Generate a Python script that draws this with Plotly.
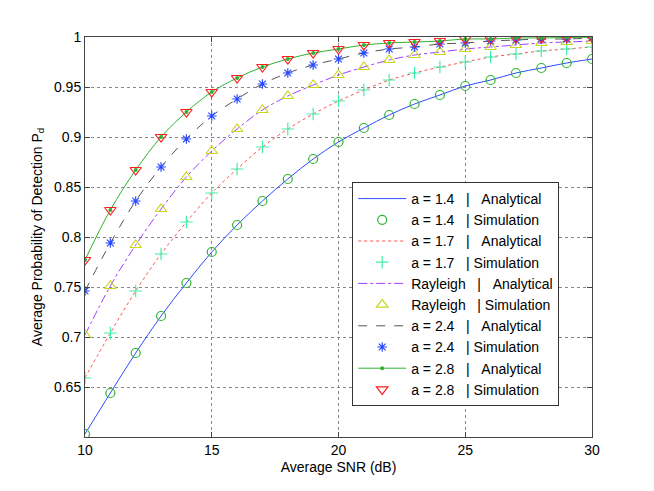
import plotly.graph_objects as go

snr = list(range(10, 31))

pd_a14 = [0.603, 0.644, 0.684, 0.721, 0.754, 0.785, 0.812, 0.836, 0.858, 0.878, 0.895,
          0.909, 0.922, 0.933, 0.942, 0.951, 0.957, 0.964, 0.969, 0.974, 0.978]
pd_a17 = [0.659, 0.704, 0.746, 0.783, 0.815, 0.844, 0.868, 0.890, 0.908, 0.923, 0.936,
          0.947, 0.957, 0.964, 0.970, 0.975, 0.980, 0.983, 0.986, 0.988, 0.990]
pd_ray = [0.702, 0.751, 0.792, 0.828, 0.860, 0.886, 0.908, 0.927, 0.941, 0.952, 0.962,
          0.970, 0.977, 0.982, 0.985, 0.988, 0.990, 0.992, 0.994, 0.995, 0.996]
pd_a24 = [0.746, 0.794, 0.836, 0.870, 0.898, 0.921, 0.938, 0.953, 0.964, 0.972, 0.978,
          0.984, 0.988, 0.990, 0.993, 0.994, 0.996, 0.997, 0.998, 0.998, 0.999]
pd_a28 = [0.777, 0.827, 0.867, 0.900, 0.925, 0.945, 0.959, 0.970, 0.978, 0.984, 0.988,
          0.992, 0.994, 0.995, 0.996, 0.998, 0.998, 0.999, 0.999, 0.9995, 0.9997]

labels = ["a = 1.4", "a = 1.7", "Rayleigh", "a = 2.4", "a = 2.8"]
sep = "\u00a0\u00a0\u00a0|\u00a0\u00a0\u00a0"
sep2 = "\u00a0\u00a0\u00a0|\u00a0"

fig = go.Figure()

# (values, line colour, dash, marker colour, marker symbol, marker size)
series = [
    (pd_a14, "#2b4cff", "solid", "#2fb52f", "circle-open", 9),
    (pd_a17, "#ff5050", "dot", "#40f0a8", "cross-thin-open", 9),
    (pd_ray, "#a040ff", "dashdot", "#c8d81a", "triangle-up-open", 10),
    (pd_a24, "#555555", "dash", "#2848ff", "asterisk-open", 8),
    (pd_a28, "#30b030", "solid", "#ff2020", "triangle-down-open", 10),
]

for lab, (vals, lc, dash, mc, sym, ms) in zip(labels, series):
    if lab == "a = 2.8":
        fig.add_trace(go.Scatter(
            x=snr, y=vals, mode="lines+markers", name=lab + sep + "Analytical",
            line=dict(color=lc, width=1, dash=dash, shape="spline"),
            marker=dict(color=lc, size=4, symbol="circle"),
        ))
    else:
        fig.add_trace(go.Scatter(
            x=snr, y=vals, mode="lines", name=lab + sep + "Analytical",
            line=dict(color=lc, width=1, dash=dash, shape="spline"),
        ))
    fig.add_trace(go.Scatter(
        x=snr, y=vals, mode="markers", name=lab + sep2 + "Simulation",
        marker=dict(color=mc, size=ms, symbol=sym, line=dict(color=mc, width=1.2)),
    ))

axis_common = dict(
    showline=True, linecolor="#444444", linewidth=1, mirror="ticks",
    ticks="inside", ticklen=5, tickcolor="#444444",
    showgrid=True, gridcolor="#888888", griddash="dot", gridwidth=1,
    zeroline=False, tickfont=dict(size=14, color="black"),
)

fig.update_layout(
    width=654, height=491,
    margin=dict(l=77, r=70, t=29, b=62),
    paper_bgcolor="white", plot_bgcolor="white",
    font=dict(family="Liberation Sans, Arial, sans-serif", size=14, color="black"),
    xaxis=dict(range=[10, 30], tickvals=[10, 15, 20, 25, 30],
               title=dict(text="Average SNR (dB)", standoff=5, font=dict(size=14)),
               **axis_common),
    yaxis=dict(range=[0.6, 1], tickvals=[0.6, 0.65, 0.7, 0.75, 0.8, 0.85, 0.9, 0.95, 1],
               ticktext=["", "0.65", "0.7", "0.75", "0.8", "0.85", "0.9", "0.95", "1"],
               title=dict(text="Average Probability of Detection P<sub>d</sub>", standoff=8,
                          font=dict(size=14)),
               **axis_common),
    legend=dict(x=0.527, y=0.6375, xanchor="left", yanchor="top",
                bgcolor="white", bordercolor="#333333", borderwidth=1,
                font=dict(size=14), tracegroupgap=0, itemwidth=48),
    showlegend=True,
)

fig.write_html("out.html")
